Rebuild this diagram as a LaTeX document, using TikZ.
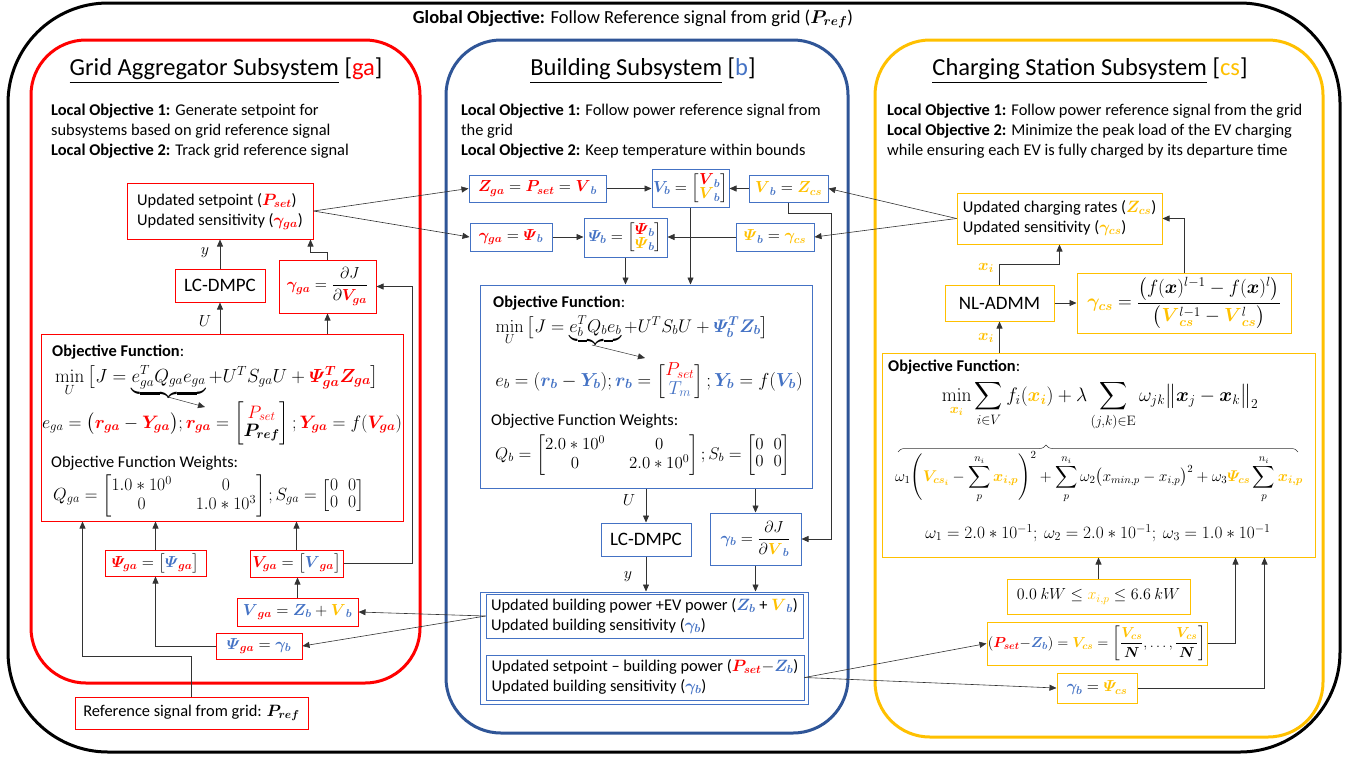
\RequirePackage{fix-cm}
\documentclass[tikz,border=0pt]{standalone}
\usepackage{amsmath,amssymb}
\usepackage[no-math]{fontspec}
\setmainfont{Carlito}
\usepackage{bm}
\usetikzlibrary{arrows.meta,decorations.pathreplacing,calc}
\definecolor{cred}{HTML}{FF0000}
\definecolor{cblue}{HTML}{4472C4}
\definecolor{cyel}{HTML}{FFC000}
\definecolor{cdblue}{HTML}{2F5597}
\newcommand{\xR}[1]{\textcolor{cred}{\bm{#1}}}
\newcommand{\xB}[1]{\textcolor{cblue}{\bm{#1}}}
\newcommand{\xY}[1]{\textcolor{cyel}{\bm{#1}}}
\newcommand{\vPs}{\varPsi}
\newcommand{\tl}[1]{\begin{tabular}{@{}l@{}}#1\end{tabular}}
\begin{document}
\begin{tikzpicture}[x=1pt,y=-1pt,
  every node/.style={font=\fontsize{16}{17}\selectfont, inner sep=0pt},
  txt/.style={font=\fontsize{16.4}{20}\selectfont, align=left},
  tf/.style={font=\fontsize{16.4}{20}\selectfont},
  sm/.style={font=\fontsize{16}{13}\selectfont},
  ttl/.style={font=\fontsize{24.5}{28}\selectfont},
  big/.style={font=\fontsize{19}{22}\selectfont},
  sz/.style 2 args={minimum width=#1pt, minimum height=#2pt},
  rb/.style={draw=cred, line width=1pt, inner sep=0pt},
  bb/.style={draw=cblue, line width=1pt, inner sep=0pt},
  yb/.style={draw=cyel, line width=1pt, inner sep=0pt},
  arr/.style={-{Triangle[length=7pt,width=6pt]}, line width=0.6pt, draw=black!80},
]
\useasboundingbox (0,0) rectangle (1348,756);

% frames
\draw[line width=3pt, rounded corners=100pt] (8,3) rectangle (1340,752);
\draw[cred, line width=3pt, rounded corners=55pt] (31,40) rectangle (420,683);
\draw[cdblue, line width=3pt, rounded corners=55pt] (446,40) rectangle (848,733);
\draw[cyel, line width=3pt, rounded corners=55pt] (875,40) rectangle (1323,737);

\node[font=\fontsize{18.5}{22}\selectfont] (glob) at (633,19) {\textbf{Global Objective:} Follow Reference signal from grid ($\bm{P_{ref}}$)};

% titles
\node[ttl] (tga) at (226,71) {\underline{Grid Aggregator Subsystem} [\textcolor{cred}{ga}]};
\node[ttl] (tb) at (643,71) {\underline{Building Subsystem} [\textcolor{cblue}{b}]};
\node[ttl] (tcs) at (1090,71) {\underline{Charging Station Subsystem} [\textcolor{cyel}{cs}]};

\node[txt, anchor=north west] (loga) at (51,104) {\textbf{Local Objective 1:} Generate setpoint for\\subsystems based on grid reference signal\\\textbf{Local Objective 2:} Track grid reference signal};
\node[txt, anchor=north west] (lob) at (461,104) {\textbf{Local Objective 1:} Follow power reference signal from\\the grid\\\textbf{Local Objective 2:} Keep temperature within bounds};
\node[txt, anchor=north west] (locs) at (887,104) {\textbf{Local Objective 1:} Follow power reference signal from the grid\\\textbf{Local Objective 2:} Minimize the peak load of the EV charging\\while ensuring each EV is fully charged by its departure time};

% ---------------- Grid aggregator ----------------
\node[rb, tf, sz={186}{56}] (sp) at (220,211) {\tl{Updated setpoint ($\xR{P_{set}}$)\\Updated sensitivity ($\xR{\gamma_{ga}}$)}};
\node[rb, big, sz={90}{33}] (lc) at (220,285.5) {LC-DMPC};
\node[rb, sz={97}{53}] (gga) at (327.5,286.5) {$\xR{\gamma_{ga}} = \dfrac{\partial J}{\partial \xR{V_{ga}}}$};
\node[rb, sz={362}{187}] (obj) at (222,427.5) {};
\node[tf, anchor=west] (of1) at (52,352) {\textbf{Objective Function}:};
\node[font=\fontsize{19}{19}\selectfont, anchor=base] (eq1) at (217,382) {$\min\limits_U \big[J = \underbrace{e_{ga}^T Q_{ga} e_{ga}}_{} + U^T S_{ga} U + \xR{\vPs^T_{ga} Z_{ga}}\big]$};
\coordinate (bt1) at (168,397);
\coordinate (bh1) at (205,407);
\draw[arr, line width=0.5pt] (bt1) -- (bh1);
\node[font=\fontsize{18}{18}\selectfont, anchor=base] (eq2) at (222,428) {$e_{ga} = \big(\xR{r_{ga}} - \xR{Y_{ga}}\big); \xR{r_{ga}} = \begin{bmatrix}\textcolor{cred}{P_{set}}\\ \bm{P_{ref}}\end{bmatrix}; \xR{Y_{ga}} = f(\xR{V_{ga}})$};
\node[tf, anchor=base west] (wt1) at (51,467) {Objective Function Weights:};
\node[font=\fontsize{17.6}{17}\selectfont, anchor=base west] (q1) at (53,500) {$\setlength\arraycolsep{12pt}Q_{ga} = \begin{bmatrix}1.0*10^0 & 0\\ 0 & 1.0*10^3\end{bmatrix}; \setlength\arraycolsep{5pt}S_{ga} = \begin{bmatrix}0 & 0\\ 0 & 0\end{bmatrix}$};
\node[rb, sz={101}{26}] (psib) at (155.5,563) {$\xR{\vPs_{ga}} = \big[\xB{\vPs}_{\xR{ga}}\big]$};
\node[rb, sz={93}{27}] (vgab) at (296.5,563.5) {$\xR{V_{ga}} = \big[\xB{V}_{\xR{ga}}\big]$};
\node[rb, sz={121}{28}] (vsum) at (297.5,612) {$\xB{V}_{\xR{ga}} = \xB{Z_b} + \xY{V}_{\xB{b}}$};
\node[rb, sz={86}{26}] (psig) at (259,646) {$\xB{\vPs}_{\xR{ga}} = \xB{\gamma_b}$};
\node[rb, tf, sz={233}{32}] (ref) at (191.5,713) {Reference signal from grid: $\bm{P_{ref}}$};

\draw[arr] (lc.north) -- (lc.north |- sp.south);
\node (ly1) at (205,253) {$y$};
\draw[arr] (gga.north) -- ++(0,-7) -| ([xshift=-3pt]sp.south east);
\draw[arr] (lc.south |- obj.north) -- (lc.south);
\node (lu1) at (205,321) {$U$};
\draw[arr] (gga.south |- obj.north) -- (gga.south);
\draw[arr] (vgab.east) -- ++(69,0) |- (gga.east);
\draw[arr] (vsum.north) -- (vsum.north |- vgab.south);
\draw[arr] (vgab.north) -- (vgab.north |- obj.south);
\draw[arr] (psib.north) -- (psib.north |- obj.south);
\draw[arr] (psig.west) -| (psib.south);
\draw[arr] (ref.north) -- ++(0,-40) -| ([xshift=42pt]obj.south west);

% ---------------- Building ----------------
\node[bb, sz={137}{27}] (zga) at (537.5,188.5) {$\xR{Z_{ga}} = \xR{P_{set}} = \xR{V}_{\xB{b}}$};
\node[bb, sm, sz={77}{38}] (vb) at (690.5,188) {$\renewcommand{\arraystretch}{0.85}\xB{V_b} = \begin{bmatrix}\xR{V}_{\xB{b}}\\ \xY{V}_{\xB{b}}\end{bmatrix}$};
\node[bb, sz={79}{27}] (vbz) at (788.5,188.5) {$\xY{V}_{\xB{b}} = \xY{Z_{cs}}$};
\node[bb, sz={82}{28}] (gp) at (511,237) {$\xR{\gamma_{ga}} = \xR{\vPs}_{\xB{b}}$};
\node[bb, sm, sz={83}{39}] (psb) at (625.5,237.5) {$\renewcommand{\arraystretch}{0.85}\xB{\vPs_b} = \begin{bmatrix}\xR{\vPs}_{\xB{b}}\\ \xY{\vPs}_{\xB{b}}\end{bmatrix}$};
\node[bb, sz={78}{28}] (psbc) at (775,237) {$\xY{\vPs}_{\xB{b}} = \xY{\gamma_{cs}}$};
\node[bb, sz={332}{203}] (objb) at (646,386.5) {};
\node[tf, anchor=west] (of2) at (493,303) {\textbf{Objective Function}:};
\node[font=\fontsize{18.3}{18}\selectfont, anchor=base] (eq4) at (632,332) {$\min\limits_U \big[J = \underbrace{e_b^T Q_b e_b}_{} + U^T S_b U + \xB{\vPs_b^T Z_b}\big]$};
\coordinate (bt2) at (592,345);
\coordinate (bh2) at (645,358);
\draw[arr, line width=0.5pt] (bt2) -- (bh2);
\node[font=\fontsize{18.8}{18}\selectfont, anchor=base] (eq5) at (649,386) {$e_b = (\xB{r_b} - \xB{Y_b}); \xB{r_b} = \begin{bmatrix}\textcolor{cred}{P_{set}}\\ \textcolor{cblue}{T_m}\end{bmatrix}; \xB{Y_b} = f(\xB{V_b})$};
\node[tf, anchor=base west] (wt2) at (491,425) {Objective Function Weights:};
\node[font=\fontsize{16.9}{17}\selectfont, anchor=base west] (q2) at (495,459) {$\setlength\arraycolsep{12pt}Q_b = \begin{bmatrix}2.0*10^0 & 0\\ 0 & 2.0*10^0\end{bmatrix}; \setlength\arraycolsep{5pt}S_b = \begin{bmatrix}0 & 0\\ 0 & 0\end{bmatrix}$};
\node[bb, big, sz={90}{33}] (lcb) at (646,539.5) {LC-DMPC};
\node[bb, sz={91}{52}] (gb) at (755.5,539) {$\xB{\gamma_b} = \dfrac{\partial J}{\partial \xY{V}_{\xB{b}}}$};
\node[bb, sz={328}{112}] (outb) at (644,648) {};
\node[bb, tf, sz={317}{44}] (bb1) at (644.5,616) {\tl{Updated building power +EV power ($\xB{Z_b}$ + $\xY{V}_{\xB{b}}$)\\Updated building sensitivity ($\xB{\gamma_b}$)}};
\node[bb, tf, sz={318}{45}] (bb2) at (645,677.5) {\tl{Updated setpoint – building power ($\xR{P_{set}}{-}\xB{Z_b}$)\\Updated building sensitivity ($\xB{\gamma_b}$)}};

\draw[arr] (sp.east) -- (zga.west);
\draw[arr] (sp.east) -- (gp.west);
\draw[arr] (zga.east) -- (zga.east -| vb.west);
\draw[arr] (vbz.west) -- (vbz.west -| vb.east);
\draw[arr] (gp.east) -- (gp.east -| psb.west);
\draw[arr] (psbc.west) -- (psbc.west -| psb.east);
\draw[arr] (vb.south) -- (vb.south |- objb.north);
\draw[arr] (psb.south) -- (psb.south |- objb.north);
\draw[arr] (vbz.south) -- ++(0,11) -| ([xshift=30pt]gb.east) -- (gb.east);
\draw[arr] (lcb.north |- objb.south) -- (lcb.north);
\node (lu2) at (629,500) {$U$};
\draw[arr] (gb.north |- objb.south) -- (gb.north);
\draw[arr] (lcb.south) -- (lcb.south |- outb.north);
\node (ly2) at (628,577) {$y$};
\draw[arr] (gb.south) -- (gb.south |- outb.north);
\draw[arr] (bb1.west) -- (vsum.east);
\draw[arr] (bb1.west) -- (psig.east);

% ---------------- Charging station ----------------
\node[yb, tf, sz={205}{51}] (ucr) at (1059.5,218.5) {\tl{Updated charging rates ($\xY{Z_{cs}}$)\\Updated sensitivity ($\xY{\gamma_{cs}}$)}};
\node[yb, big, sz={109}{36}] (nl) at (999.5,303) {NL-ADMM};
\node[yb, font=\fontsize{19}{19}\selectfont, sz={214}{60}] (gcs) at (1184,303) {$\xY{\gamma_{cs}} = \dfrac{\big(f(\bm{x})^{l-1} - f(\bm{x})^{l}\big)}{\big(\xY{V}^{l-1}_{\xY{cs}} - \xY{V}^{l}_{\xY{cs}}\big)}$};
\node[yb, sz={433}{204}] (objr) at (1098.5,455) {};
\node[tf, anchor=west] (of3) at (888,367) {\textbf{Objective Function}:};
\node[font=\fontsize{19.5}{19}\selectfont] (eq6) at (1100,406) {$\displaystyle\min_{\xY{x_i}} \sum_{i\in V} f_i(\xY{x_i}) + \lambda \sum_{(j,k)\in \mathrm{E}} \omega_{jk} \big\|\bm{x}_j - \bm{x}_k\big\|_2$};
\coordinate (br1) at (898,452);
\coordinate (br2) at (1298,452);
\draw[decorate, decoration={brace, amplitude=7pt, aspect=0.37}, line width=0.5pt, black!80] (br1) -- (br2);
\node[font=\fontsize{15.5}{17}\selectfont] (eq7) at (1099,477) {$\displaystyle \omega_1\Bigg(\xY{V_{cs_i}} - \sum_{p}^{n_i} \xY{x_{i,p}}\Bigg)^{2} + \sum_{p}^{n_i}\omega_2\big(x_{min,p} - x_{i,p}\big)^2 + \omega_3\xY{\vPs_{cs}}\sum_{p}^{n_i}\xY{x_{i,p}}$};
\node[font=\fontsize{17.3}{17}\selectfont] (eq8) at (1098,533) {$\omega_1 = 2.0*10^{-1};\ \omega_2 = 2.0*10^{-1};\ \omega_3 = 1.0*10^{-1}$};
\node[yb, sz={183}{35}] (kw) at (1098.5,596.5) {$0.0\ kW \le \textcolor{cyel}{x_{i,p}} \le 6.6\ kW$};
\node[yb, font=\fontsize{14.5}{15}\selectfont, sz={220}{43}] (cv) at (1097,643.5) {$(\xR{P_{set}}{-}\xB{Z_b}) = \xY{V_{cs}} = \left[\dfrac{\xY{V_{cs}}}{\bm{N}}, \dots, \dfrac{\xY{V_{cs}}}{\bm{N}}\right]$};
\node[yb, sz={80}{30}] (gbc) at (1097,688) {$\xB{\gamma_b} = \xY{\vPs_{cs}}$};

\draw[arr] (ucr.west) -- (vbz.east);
\draw[arr] (ucr.west) -- (psbc.east);
\draw[arr] (nl.north) -- ++(0,-20) -| (ucr.south);
\node (lx1) at (986,268) {$\xY{x_i}$};
\draw[arr] (gcs.north) |- (ucr.east);
\draw[arr] (nl.east) -- (nl.east -| gcs.west);
\draw[arr] (nl.south |- objr.north) -- (nl.south);
\node (lx2) at (986,338) {$\xY{x_i}$};
\draw[arr] (kw.north) -- (kw.north |- objr.south);
\draw[arr] (cv.east) -| ([xshift=354pt]objr.south west);
\draw[arr] (gbc.east) -| ([xshift=383pt]objr.south west);
\draw[arr] (bb2.east) -- (cv.west);
\draw[arr] (bb2.east) -- (gbc.west);
\end{tikzpicture}
\end{document}
